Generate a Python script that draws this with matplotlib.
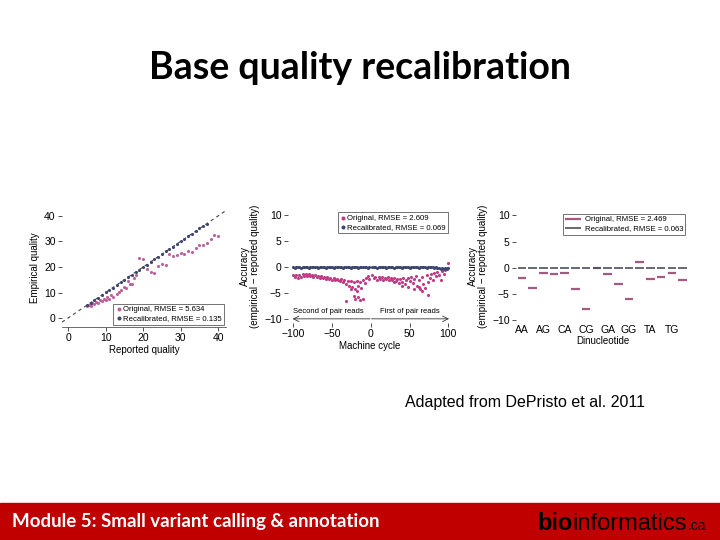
import matplotlib.pyplot as plt
from matplotlib.patches import Rectangle

# ---- panel 1: reported vs empirical quality ----
orig_q_x = [5, 5.5, 6, 6.5, 7, 7.5, 8, 8.5, 9, 9.5, 10, 10.5, 11, 11.5, 12, 13, 13.5, 14,
            15, 15.5, 16, 16.5, 17, 17.5, 18, 19, 20, 21, 22, 23, 24, 25, 26, 27, 28, 29,
            30, 31, 32, 33, 34, 35, 36, 37, 38, 39, 40]
orig_q_y = [4.6, 5.3, 4.9, 5.8, 5.4, 6.4, 6.0, 7.0, 6.5, 7.6, 7.0, 8.2, 7.6, 9.0, 8.2, 9.6, 10.3, 10.8,
            12.2, 11.6, 14.5, 13.2, 13.5, 15.6, 16.8, 23.6, 23.0, 19.3, 18.2, 17.6, 20.2, 21.3, 20.8, 25.0, 24.3, 24.8,
            25.5, 25.0, 26.4, 26.0, 27.6, 28.5, 28.8, 29.4, 31.0, 32.6, 32.3]
recal_q_x = [5, 6, 7, 8, 9, 10, 11, 12, 13, 14, 15, 16, 17, 18, 19, 20, 21, 22, 23, 24, 25,
             26, 27, 28, 29, 30, 31, 32, 33, 34, 35, 36, 37]
recal_q_y = [5.1, 6.0, 7.1, 7.9, 9.0, 10.1, 11.0, 11.9, 13.1, 14.0, 15.1, 15.9, 17.0, 18.1, 19.0, 20.1, 20.9, 22.0,
             23.1, 24.0, 25.0, 26.1, 26.9, 28.0, 29.1, 30.0, 31.0, 32.1, 33.0, 34.0, 35.1, 36.0, 36.9]

# ---- panel 2: accuracy by machine cycle ----
cycles = list(range(-100, 0, 2)) + list(range(2, 101, 2))
orig_cycle = [-1.5, -2.0, -1.6, -2.2, -1.5, -1.9, -1.4, -1.8, -1.3, -1.7,
              -1.4, -1.8, -1.5, -1.9, -1.6, -2.0, -1.7, -2.1, -1.8, -2.2,
              -1.9, -2.3, -2.0, -2.4, -2.1, -2.5, -2.2, -2.6, -2.3, -2.5,
              -2.8, -2.4, -3.0, -2.6, -3.3, -2.7, -3.6, -2.8, -3.9, -3.0,
              -4.3, -2.7, -3.6, -2.9, -4.0, -2.6, -3.2, -2.2, -1.8, -2.3,
              -1.6, -2.2, -2.0, -2.6, -1.9, -2.3, -2.0, -2.5, -2.1, -2.4,
              -2.0, -2.6, -2.2, -2.5, -2.1, -2.7, -2.3, -3.1, -2.4, -2.9,
              -2.2, -3.4, -2.5, -2.2, -2.8, -2.0, -3.2, -2.4, -1.8, -3.6,
              -2.6, -4.2, -2.0, -3.3, -4.0, -1.6, -3.0, -2.2, -1.3, -2.6,
              -1.2, -1.8, -1.0, -1.5, -2.6, -0.9, -1.3, -0.6, -0.2, 0.7]
recal_cycle = [-0.1, -0.2, -0.1, 0.0, -0.1, -0.2, -0.1, -0.1, 0.0, -0.1,
               -0.2, -0.1, -0.1, 0.0, -0.1, -0.1, -0.2, -0.1, 0.0, -0.1,
               -0.1, -0.2, -0.1, -0.1, 0.0, -0.1, -0.2, -0.1, -0.1, 0.0,
               -0.1, -0.1, -0.2, -0.1, 0.0, -0.1, -0.1, -0.2, -0.1, -0.1,
               0.0, -0.1, -0.2, -0.1, -0.1, 0.0, -0.1, -0.1, -0.2, -0.1,
               -0.1, 0.0, -0.1, -0.2, -0.1, -0.1, 0.0, -0.1, -0.1, -0.2,
               -0.1, 0.0, -0.1, -0.1, -0.2, -0.1, 0.0, -0.1, -0.1, -0.2,
               -0.1, -0.1, 0.0, -0.1, -0.2, -0.1, -0.1, 0.0, -0.1, -0.1,
               -0.2, -0.1, 0.0, -0.1, -0.1, -0.2, -0.1, -0.1, 0.0, -0.1,
               -0.2, -0.1, -0.3, -0.2, -0.4, -0.3, -0.5, -0.3, -0.4, -0.2]
outlier_cycles = [-32, -22, -20, -16, -14, -10, -26, -18, 56, 62, 66, 74, 30, 40, 48]
outlier_vals = [-6.5, -5.6, -6.2, -5.8, -6.4, -6.2, -4.3, -4.6, -4.2, -3.8, -4.6, -5.5, -3.0, -3.6, -3.8]

# ---- panel 3: accuracy by dinucleotide ----
dinucs = ['AA', 'AC', 'AG', 'AT', 'CA', 'CC', 'CG', 'CT',
          'GA', 'GC', 'GG', 'GT', 'TA', 'TC', 'TG', 'TT']
orig_dinuc = [-2.0, -3.8, -0.95, -1.1, -1.05, -4.05, -7.8, -0.05,
              -1.1, -3.1, -5.85, 1.1, -2.1, -1.7, -0.9, -2.4]
recal_dinuc = [-0.05, -0.1, -0.1, -0.1, -0.1, -0.1, -0.05, 0.0,
               -0.05, 0.0, 0.0, 0.05, -0.1, -0.1, -0.05, 0.0]

PINK = '#c0609a'
MAGENTA = '#c23a84'
MAUVE = '#a45a80'
NAVY = '#3c4670'
SLATE = '#4a5060'

plt.rcParams['font.family'] = ['Liberation Sans', 'DejaVu Sans']
fig = plt.figure(figsize=(7.2, 5.4), dpi=100)
W, H = 720.0, 540.0


def px_axes(l, t, r, b):
    return fig.add_axes([l / W, 1 - b / H, (r - l) / W, (b - t) / H])


def style(ax):
    for s in ax.spines.values():
        s.set_visible(False)
    ax.tick_params(labelsize=7.5, length=3, width=0.6, color='#333333', pad=1.5)
    ax.set_facecolor('none')


def box(leg):
    leg.get_frame().set_edgecolor('#333333')
    leg.get_frame().set_linewidth(0.6)


# panel 1
ax1 = px_axes(62, 208, 226, 327)
style(ax1)
ax1.spines['bottom'].set_visible(True)
ax1.spines['bottom'].set_linewidth(0.6)
ax1.spines['bottom'].set_color('#555555')
ax1.axline((0, 0), slope=1, ls=(0, (3, 3)), color='#444444', lw=0.8, zorder=1)
ax1.scatter(orig_q_x, orig_q_y, s=5, color=PINK, lw=0, label='Original, RMSE = 5.634', zorder=2)
ax1.scatter(recal_q_x, recal_q_y, s=5, color=NAVY, lw=0, label='Recalibrated, RMSE = 0.135', zorder=3)
ax1.set_xlim(-1.6, 42.1)
ax1.set_ylim(-3.5, 43.1)
ax1.set_xticks([0, 10, 20, 30, 40])
ax1.set_yticks([0, 10, 20, 30, 40])
ax1.set_xlabel('Reported quality', fontsize=7, labelpad=1)
ax1.set_ylabel('Empirical quality', fontsize=7, labelpad=3)
box(ax1.legend(loc='lower right', fontsize=5.6, frameon=True, fancybox=False,
               handletextpad=0.1, borderpad=0.3, labelspacing=0.2, markerscale=1.3,
               handlelength=0.8, borderaxespad=0.3))

# panel 2
ax2 = px_axes(288, 209, 451, 323)
style(ax2)
ax2.scatter(cycles, orig_cycle, s=5, color=MAGENTA, lw=0, label='Original, RMSE = 2.609', zorder=2)
ax2.scatter(outlier_cycles, outlier_vals, s=5, color=MAGENTA, lw=0, zorder=2)
ax2.scatter(cycles, recal_cycle, s=5, color=NAVY, lw=0, label='Recalibrated, RMSE = 0.069', zorder=3)
ax2.set_xlim(-106.8, 103.5)
ax2.set_ylim(-10.8, 11.1)
ax2.set_xticks([-100, -50, 0, 50, 100])
ax2.set_xticklabels(['\u2212100', '\u221250', '0', '50', '100'])
ax2.set_yticks([-10, -5, 0, 5, 10])
ax2.set_yticklabels(['\u221210', '\u22125', '0', '5', '10'])
ax2.set_xlabel('Machine cycle', fontsize=7, labelpad=1)
ax2.set_ylabel('Accuracy\n(empirical \u2212 reported quality)', fontsize=7, labelpad=3, linespacing=1.0)
ax2.annotate('', xy=(-101, -10), xytext=(-1, -10),
             arrowprops=dict(arrowstyle='->', lw=0.6, color='#333333', shrinkA=0, shrinkB=0))
ax2.annotate('', xy=(101, -10), xytext=(1, -10),
             arrowprops=dict(arrowstyle='->', lw=0.6, color='#333333', shrinkA=0, shrinkB=0))
ax2.text(-55, -8.6, 'Second of pair reads', fontsize=5.5, ha='center', va='center')
ax2.text(50, -8.6, 'First of pair reads', fontsize=5.5, ha='center', va='center')
box(ax2.legend(loc='upper right', fontsize=5.6, frameon=True, fancybox=False,
               handletextpad=0.1, borderpad=0.3, labelspacing=0.2, markerscale=1.3,
               handlelength=0.8, borderaxespad=0.4))

# panel 3
ax3 = px_axes(516, 209, 690, 323)
style(ax3)
idx = list(range(len(dinucs)))
ax3.hlines(orig_dinuc, [i - 0.4 for i in idx], [i + 0.4 for i in idx],
           color=MAUVE, lw=1.6, label='Original, RMSE = 2.469')
ax3.hlines(recal_dinuc, [i - 0.4 for i in idx], [i + 0.4 for i in idx],
           color=SLATE, lw=1.2, label='Recalibrated, RMSE = 0.063')
ax3.set_xlim(-0.55, 15.7)
ax3.set_ylim(-10.5, 11.2)
ax3.set_xticks(idx[::2])
ax3.set_xticklabels(dinucs[::2])
ax3.tick_params(axis='x', length=0)
ax3.set_yticks([-10, -5, 0, 5, 10])
ax3.set_yticklabels(['\u221210', '\u22125', '0', '5', '10'])
ax3.set_xlabel('Dinucleotide', fontsize=7, labelpad=1)
ax3.set_ylabel('Accuracy\n(empirical \u2212 reported quality)', fontsize=7, labelpad=3, linespacing=1.0)
box(ax3.legend(loc='upper right', fontsize=5.6, frameon=True, fancybox=False,
               handletextpad=0.5, borderpad=0.3, labelspacing=0.2,
               handlelength=2.0, borderaxespad=0.6))

# slide decoration
fig.text(0.5, 1 - 68 / H, 'Base quality recalibration', fontsize=27, fontweight='bold',
         family=['Lato', 'DejaVu Sans'], ha='center', va='center')
fig.text(645 / W, 1 - 402 / H, 'Adapted from DePristo et al. 2011', fontsize=11.5,
         ha='right', va='center')

fig.patches.append(Rectangle((0, 0), 1, 37 / H, transform=fig.transFigure,
                             color='#c00000', zorder=0))
fig.text(12 / W, 1 - 522 / H, 'Module 5: Small variant calling & annotation', fontsize=13.5,
         fontweight='bold', color='white', family=['Lato', 'DejaVu Sans'], va='center')

fig.canvas.draw()
r = fig.canvas.get_renderer()
t1 = fig.text(537 / W, 1 - 530 / H, 'bio', fontsize=17, fontweight='bold', va='baseline')
x = t1.get_window_extent(r).x1 / W
t2 = fig.text(x, 1 - 530 / H, 'informatics', fontsize=17, va='baseline')
x = t2.get_window_extent(r).x1 / W
fig.text(x + 1 / W, 1 - 530 / H, '.ca', fontsize=10, va='baseline')

fig.savefig('out.png', dpi=100)
